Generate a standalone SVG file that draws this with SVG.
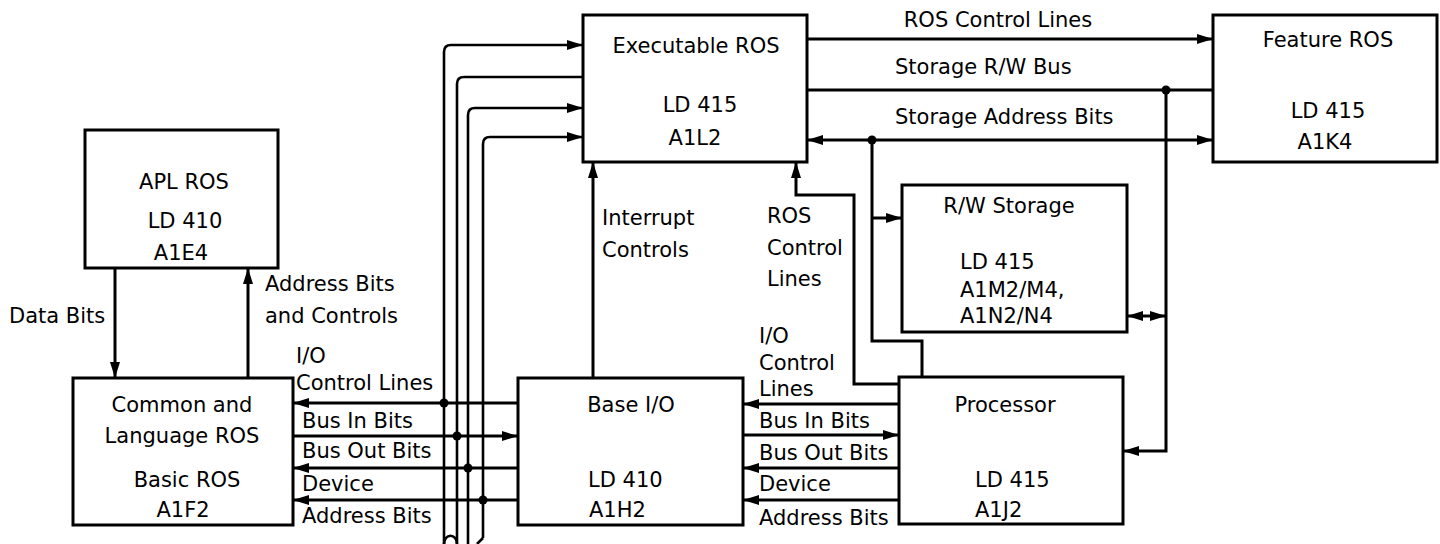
<svg xmlns="http://www.w3.org/2000/svg" width="1440" height="544" viewBox="0 0 1440 544">
<defs>
<marker id="ah" markerUnits="userSpaceOnUse" markerWidth="16" markerHeight="10" refX="16" refY="5" orient="auto-start-reverse" viewBox="0 0 16 10">
<path d="M0,0 L16,5 L0,10 z" fill="#000"/>
</marker>
<style>
.box{fill:#fff;stroke:#000;stroke-width:3}
.ln{fill:none;stroke:#000;stroke-width:3}
.bus{fill:none;stroke:#000;stroke-width:2.6}
.arr{marker-end:url(#ah)}
.dbl{marker-start:url(#ah);marker-end:url(#ah)}
text{font-family:"DejaVu Sans","Liberation Sans",sans-serif;font-size:21px;fill:#000}
.c{text-anchor:middle}
.dot{fill:#000}
</style>
</defs>
<rect width="1440" height="544" fill="#fff"/>

<g id="connectors">
<!-- Executable ROS to Feature ROS -->
<path class="ln arr" d="M807,39 H1213"/>
<path class="ln" d="M807,90 H1213"/>
<path class="ln dbl" d="M807,140 H1213"/>
<path class="ln arr" d="M1166,90 V451 H1123"/>
<circle class="dot" cx="1166" cy="90" r="4.5"/>
<path class="ln" d="M872,140 V341 H922 V377"/>
<circle class="dot" cx="872" cy="140" r="4.5"/>
<path class="ln arr" d="M872,218 H902"/>
<path class="ln dbl" d="M1127,316 H1166"/>
<!-- ROS control lines from processor -->
<path class="ln arr" d="M899,384 H854 V195 H796 V162"/>
<!-- Interrupt controls -->
<path class="ln arr" d="M593,378 V162"/>
<!-- APL ROS -->
<path class="ln arr" d="M115,268 V378"/>
<path class="ln arr" d="M248,378 V268"/>
<!-- left bus -->
<path class="ln arr" d="M518,403 H293"/>
<path class="ln arr" d="M293,436 H518"/>
<path class="ln arr" d="M518,468 H293"/>
<path class="ln arr" d="M518,500 H293"/>
<!-- right bus -->
<path class="ln arr" d="M899,404 H743"/>
<path class="ln arr" d="M743,435 H899"/>
<path class="ln arr" d="M899,468 H743"/>
<path class="ln arr" d="M899,500 H743"/>
<!-- vertical bus lines to Executable ROS -->
<path class="bus arr" d="M444,544 V52 Q444,45 451,45 H583"/>
<path class="bus" d="M457,544 V84 Q457,77 464,77 H583"/>
<path class="bus arr" d="M468,544 V115 Q468,108 475,108 H583"/>
<path class="bus arr" d="M483,538 V144 Q483,137 490,137 H583"/>
<path class="bus" d="M444,544 C444,533 457,533 457,544"/>
<path class="bus" d="M483,538 L477,544"/>
<circle class="dot" cx="444" cy="403" r="4.5"/>
<circle class="dot" cx="457" cy="436" r="4.5"/>
<circle class="dot" cx="468" cy="468" r="4.5"/>
<circle class="dot" cx="483" cy="500" r="4.5"/>
</g>

<g id="labels">
<text class="c" x="998" y="27">ROS Control Lines</text>
<text x="895" y="74">Storage R/W Bus</text>
<text x="895" y="124">Storage Address Bits</text>
<text x="602" y="225">Interrupt</text>
<text x="602" y="257">Controls</text>
<text x="767" y="223">ROS</text>
<text x="767" y="255">Control</text>
<text x="767" y="286">Lines</text>
<text x="759" y="343">I/O</text>
<text x="759" y="370">Control</text>
<text x="759" y="396">Lines</text>
<text x="759" y="428">Bus In Bits</text>
<text x="759" y="460">Bus Out Bits</text>
<text x="759" y="491">Device</text>
<text x="759" y="525">Address Bits</text>
<text x="296" y="363">I/O</text>
<text x="296" y="390">Control Lines</text>
<text x="302" y="428">Bus In Bits</text>
<text x="302" y="458">Bus Out Bits</text>
<text x="302" y="491">Device</text>
<text x="302" y="523">Address Bits</text>
<text x="9" y="323">Data Bits</text>
<text x="265" y="291">Address Bits</text>
<text x="265" y="323">and Controls</text>
</g>

<g id="executable-ros">
<rect class="box" x="583" y="15" width="224" height="147"/>
<text class="c" x="696" y="53">Executable ROS</text>
<text class="c" x="700" y="112">LD 415</text>
<text class="c" x="695" y="145">A1L2</text>
</g>

<g id="feature-ros">
<rect class="box" x="1213" y="15" width="224" height="147"/>
<text class="c" x="1328" y="47">Feature ROS</text>
<text class="c" x="1328" y="118">LD 415</text>
<text class="c" x="1325" y="149">A1K4</text>
</g>

<g id="apl-ros">
<rect class="box" x="85" y="130" width="193" height="138"/>
<text class="c" x="184" y="189">APL ROS</text>
<text class="c" x="185" y="228">LD 410</text>
<text class="c" x="181" y="260">A1E4</text>
</g>

<g id="common-ros">
<rect class="box" x="73" y="378" width="220" height="147"/>
<text class="c" x="182" y="412">Common and</text>
<text class="c" x="182" y="443">Language ROS</text>
<text class="c" x="187" y="487">Basic ROS</text>
<text class="c" x="183" y="517">A1F2</text>
</g>

<g id="base-io">
<rect class="box" x="518" y="378" width="225" height="147"/>
<text class="c" x="631" y="412">Base I/O</text>
<text x="588" y="487">LD 410</text>
<text x="589" y="517">A1H2</text>
</g>

<g id="rw-storage">
<rect class="box" x="902" y="185" width="225" height="147"/>
<text class="c" x="1009" y="213">R/W Storage</text>
<text x="960" y="269">LD 415</text>
<text x="960" y="297">A1M2/M4,</text>
<text x="960" y="323">A1N2/N4</text>
</g>

<g id="processor">
<rect class="box" x="899" y="377" width="224" height="147"/>
<text class="c" x="1005" y="412">Processor</text>
<text x="975" y="487">LD 415</text>
<text x="975" y="517">A1J2</text>
</g>
</svg>
